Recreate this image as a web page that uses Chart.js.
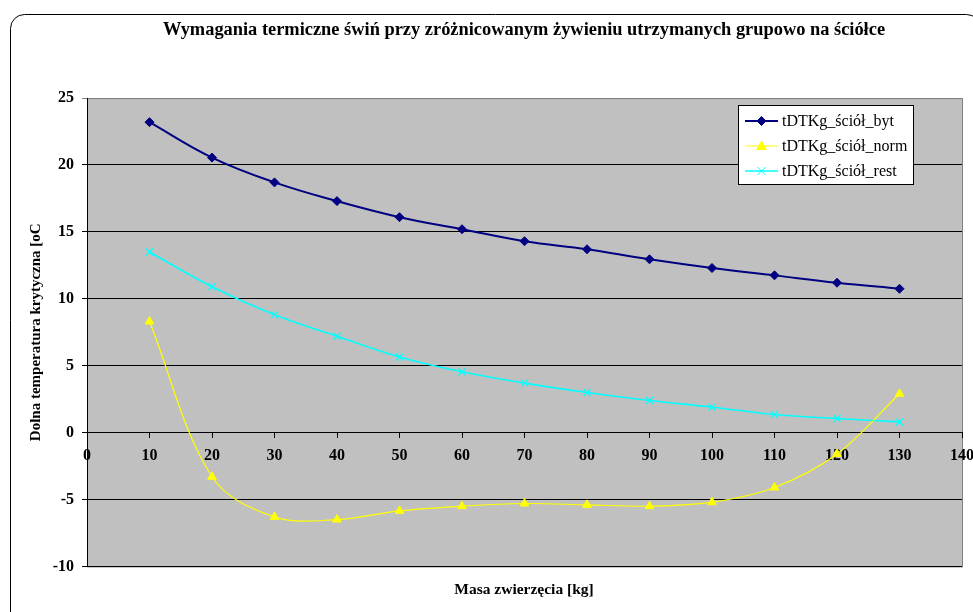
<!DOCTYPE html>
<html>
<head>
<meta charset="utf-8">
<script src="https://cdn.jsdelivr.net/npm/chart.js"></script>
<style>
  html, body { margin: 0; padding: 0; background: #fff; overflow: hidden; }
  #wrap { width: 973px; height: 612px; overflow: hidden; position: relative; }
  #c { display: block; }
</style>
</head>
<body>
<div id="wrap"><canvas id="c" width="1048" height="612"></canvas></div>
<script>
// ---- data ----
const titleText = 'Wymagania termiczne świń przy zróżnicowanym żywieniu utrzymanych grupowo na ściółce';
const xTitle = 'Masa zwierzęcia [kg]';
const yTitle = 'Dolna temperatura krytyczna [oC';
const masses = [10, 20, 30, 40, 50, 60, 70, 80, 90, 100, 110, 120, 130];
const seriesNames = ['tDTKg_ściół_byt', 'tDTKg_ściół_norm', 'tDTKg_ściół_rest'];
const bytValues  = [23.2, 20.55, 18.7, 17.3, 16.1, 15.2, 14.3, 13.7, 12.95, 12.3, 11.75, 11.2, 10.75];
const normValues = [8.3, -3.3, -6.3, -6.5, -5.85, -5.5, -5.3, -5.4, -5.5, -5.2, -4.1, -1.6, 2.9];
const restValues = [13.5, 10.9, 8.8, 7.2, 5.65, 4.55, 3.7, 3.0, 2.4, 1.9, 1.35, 1.05, 0.8];
const xTicks = { min: 0, max: 140, step: 10 };
const yTicks = { min: -10, max: 25, step: 5 };

const serif = '"Liberation Serif", "Times New Roman", serif';
const toPts = (vals) => masses.map((m, i) => ({ x: m, y: vals[i] }));

function drawMarker(ctx, style, x, y, r, color, lw) {
  ctx.save();
  ctx.fillStyle = color; ctx.strokeStyle = color; ctx.lineWidth = lw;
  ctx.beginPath();
  if (style === 'rectRot') {
    ctx.moveTo(x, y - r); ctx.lineTo(x + r, y); ctx.lineTo(x, y + r); ctx.lineTo(x - r, y); ctx.closePath();
    ctx.fill(); ctx.stroke();
  } else if (style === 'triangle') {
    ctx.moveTo(x, y - r); ctx.lineTo(x + r * 0.95, y + r * 0.7); ctx.lineTo(x - r * 0.95, y + r * 0.7); ctx.closePath();
    ctx.fill(); ctx.stroke();
  } else if (style === 'crossRot') {
    const d = r * 0.8;
    ctx.moveTo(x - d, y - d); ctx.lineTo(x + d, y + d);
    ctx.moveTo(x + d, y - d); ctx.lineTo(x - d, y + d);
    ctx.stroke();
  }
  ctx.restore();
}

const decor = {
  id: 'decor',
  beforeDraw(chart) {
    const ctx = chart.ctx, a = chart.chartArea;
    ctx.save();
    ctx.fillStyle = '#fff';
    ctx.fillRect(0, 0, chart.width, chart.height);
    // outer rounded frame (left, top and the start of the top-right corner are visible)
    ctx.strokeStyle = '#000'; ctx.lineWidth = 1;
    ctx.beginPath();
    ctx.moveTo(10.5, 700);
    ctx.lineTo(10.5, 28.5);
    ctx.arcTo(10.5, 14.5, 24.5, 14.5, 14);
    ctx.lineTo(966.5, 14.5);
    ctx.arcTo(980.5, 14.5, 980.5, 28.5, 14);
    ctx.lineTo(980.5, 700);
    ctx.stroke();
    // plot area
    ctx.fillStyle = '#C0C0C0';
    ctx.fillRect(a.left, a.top, a.right - a.left, a.bottom - a.top);
    ctx.strokeStyle = '#808080';
    ctx.strokeRect(a.left + 0.5, a.top + 0.5, a.right - a.left, a.bottom - a.top);
    ctx.restore();
  },
  afterDraw(chart) {
    const ctx = chart.ctx;
    const bx = 738.5, by = 105.5, bw = 175, bh = 79;
    ctx.save();
    ctx.fillStyle = '#fff'; ctx.strokeStyle = '#000'; ctx.lineWidth = 1;
    ctx.fillRect(bx, by, bw, bh); ctx.strokeRect(bx, by, bw, bh);
    ctx.font = '16px ' + serif;
    ctx.textBaseline = 'middle'; ctx.textAlign = 'left';
    chart.data.datasets.forEach((ds, i) => {
      const y = 121 + i * 25;
      ctx.strokeStyle = ds.borderColor; ctx.lineWidth = ds.borderWidth;
      ctx.beginPath(); ctx.moveTo(745, y); ctx.lineTo(778, y); ctx.stroke();
      drawMarker(ctx, ds.pointStyle, 761.5, y, ds.pointRadius, ds.borderColor, 1);
      ctx.fillStyle = '#000';
      ctx.fillText(ds.label, 782, y + 1);
    });
    ctx.restore();
  }
};

new Chart(document.getElementById('c'), {
  type: 'line',
  data: {
    datasets: [
      { label: seriesNames[0], data: toPts(bytValues), borderColor: '#000080', backgroundColor: '#000080',
        borderWidth: 2, pointStyle: 'rectRot', pointRadius: 4.5, pointBorderWidth: 1, tension: 0.4 },
      { label: seriesNames[1], data: toPts(normValues), borderColor: '#FFFF00', backgroundColor: '#FFFF00',
        borderWidth: 1.2, pointStyle: 'triangle', pointRadius: 5, pointBorderWidth: 1, tension: 0.35 },
      { label: seriesNames[2], data: toPts(restValues), borderColor: '#00FFFF', backgroundColor: '#00FFFF',
        borderWidth: 1.6, pointStyle: 'crossRot', pointRadius: 5, pointBorderWidth: 1.3, tension: 0.4 }
    ]
  },
  options: {
    responsive: false,
    animation: false,
    layout: { padding: { left: 10, right: 10, top: 6, bottom: 0 } },
    plugins: {
      legend: { display: false },
      tooltip: { enabled: false },
      title: { display: true, text: titleText, color: '#000',
        font: { family: serif, size: 18.4, weight: 'bold' }, padding: { top: 13, bottom: 57 } },
      subtitle: { display: true, position: 'bottom', text: xTitle, color: '#000',
        font: { family: serif, size: 15.5, weight: 'bold' }, padding: { top: 14, bottom: 13 } }
    },
    scales: {
      x: {
        type: 'linear', position: { y: 0 },
        min: xTicks.min, max: xTicks.max,
        ticks: { stepSize: xTicks.step, color: '#000', padding: 9, maxRotation: 0, autoSkip: false,
          font: { family: serif, size: 16, weight: 'bold' } },
        grid: { drawOnChartArea: false, drawTicks: true, tickLength: 5, color: '#000' },
        border: { display: true, color: '#000', width: 1 }
      },
      y: {
        position: 'left',
        min: yTicks.min, max: yTicks.max,
        afterFit(scale) { scale.width = 77; },
        ticks: { stepSize: yTicks.step, color: '#000', padding: 8,
          font: { family: serif, size: 16, weight: 'bold' } },
        grid: { drawOnChartArea: true, drawTicks: true, tickLength: 5,
          color: (c) => (c.tick && c.tick.value === yTicks.max) ? '#808080' : '#000' },
        border: { display: true, color: '#000', width: 1 },
        title: { display: true, text: yTitle, color: '#000', padding: { top: 17, bottom: 0 },
          font: { family: serif, size: 15, weight: 'bold' } }
      },
      yRight: {
        position: 'right', min: yTicks.min, max: yTicks.max,
        afterFit(scale) { scale.width = 76; },
        ticks: { display: false },
        grid: { display: false, drawTicks: false },
        border: { display: false }
      }
    }
  },
  plugins: [decor]
});
</script>
</body>
</html>
